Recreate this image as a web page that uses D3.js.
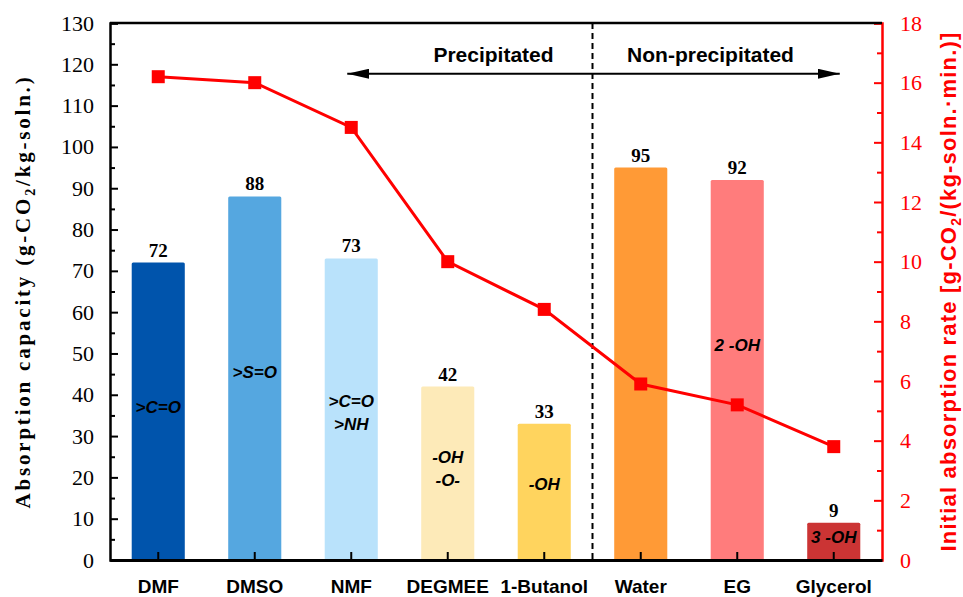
<!DOCTYPE html>
<html>
<head>
<meta charset="utf-8">
<script src="https://cdn.jsdelivr.net/npm/d3@7"></script>
<style>
  body { margin: 0; background: #fff; }
  svg text { font-family: "Liberation Serif", "Times New Roman", serif; }
  .sans { font-family: "Liberation Sans", Arial, sans-serif !important; }
</style>
</head>
<body>
<div id="viz"></div>
<script>
// solvents and their values
const solvents = ["DMF", "DMSO", "NMF", "DEGMEE", "1-Butanol", "Water", "EG", "Glycerol"];
const capacity = [72, 88, 73, 42, 33, 95, 92, 9];
const rate = [16.2, 16.0, 14.5, 10.0, 8.4, 5.9, 5.2, 3.8];
const barColors = ["#0054AC", "#55A7E0", "#B9E2FB", "#FDEAB8", "#FFD45E", "#FF9A36", "#FF7C7C", "#CB3434"];
// functional group notes inside bars, [lines, capacity-axis position]
const groupLabels = [
  [[">C=O"], 37],
  [[">S=O"], 45.5],
  [[">C=O", ">NH"], 38.5],
  [["-OH", "-O-"], 25],
  [["-OH"], 18.5],
  [[], 0],
  [["2 -OH"], 52],
  [["3 -OH"], 5.5]
];
const leftTicks = d3.range(0, 131, 10);
const rightTicks = d3.range(0, 19, 2);

const width = 963, height = 597;
const margin = { top: 23, right: 81, bottom: 37, left: 110 };

const svg = d3.select("#viz").append("svg")
  .attr("width", width).attr("height", height);

const x = d3.scaleBand().domain(solvents)
  .range([margin.left, width - margin.right]).paddingInner(0.45).paddingOuter(0.225);
const y = d3.scaleLinear().domain([0, 130]).range([height - margin.bottom, margin.top]);
const y2 = d3.scaleLinear().domain([0, 18]).range([height - margin.bottom, margin.top]);
const xRight = width - margin.right;
const yBase = height - margin.bottom;

// bars
svg.selectAll("rect.bar")
  .data(solvents)
  .enter()
  .append("rect")
  .classed("bar", true)
  .attr("x", (d) => x(d))
  .attr("y", (d, i) => y(capacity[i]))
  .attr("width", x.bandwidth())
  .attr("height", (d, i) => yBase - y(capacity[i]))
  .attr("rx", 1.5)
  .attr("fill", (d, i) => barColors[i]);

// value labels on bars
svg.selectAll("text.val")
  .data(solvents)
  .enter()
  .append("text")
  .classed("val", true)
  .attr("x", (d) => x(d) + x.bandwidth() / 2)
  .attr("y", (d, i) => y(capacity[i]) - 6)
  .attr("text-anchor", "middle")
  .style("font-weight", "bold")
  .style("font-size", "19px")
  .text((d, i) => capacity[i]);

// group labels inside bars
solvents.forEach((s, i) => {
  const [lines, pos] = groupLabels[i];
  lines.forEach((ln, j) => {
    svg.append("text")
      .attr("class", "sans")
      .attr("x", x(s) + x.bandwidth() / 2)
      .attr("y", y(pos) + j * 23 + 6)
      .attr("text-anchor", "middle")
      .style("font-weight", "bold")
      .style("font-style", "italic")
      .style("font-size", "17px")
      .text(ln);
  });
});

// dashed divider between precipitated / non-precipitated
const divX = x("Water") - x.step() * x.paddingInner() / 2;
svg.append("line")
  .attr("x1", divX).attr("x2", divX)
  .attr("y1", margin.top).attr("y2", yBase)
  .attr("stroke", "#000").attr("stroke-width", 2)
  .attr("stroke-dasharray", "6,4");

// arrow
const defs = svg.append("defs");
["start", "end"].forEach((k) => {
  defs.append("marker")
    .attr("id", "arr-" + k)
    .attr("viewBox", "0 0 22 10")
    .attr("refX", k === "end" ? 22 : 0).attr("refY", 5)
    .attr("markerWidth", 22).attr("markerHeight", 10)
    .attr("markerUnits", "userSpaceOnUse")
    .attr("orient", "auto")
    .append("path")
    .attr("d", k === "end" ? "M0,0 L22,5 L0,10 Z" : "M22,0 L0,5 L22,10 Z")
    .attr("fill", "#000");
});
const arrowY = y2(16.3);
svg.append("line")
  .attr("x1", x("NMF") + x.bandwidth() / 2 - 4)
  .attr("x2", x("Glycerol") + x.bandwidth() / 2 + 6)
  .attr("y1", arrowY).attr("y2", arrowY)
  .attr("stroke", "#000").attr("stroke-width", 2)
  .attr("marker-start", "url(#arr-start)")
  .attr("marker-end", "url(#arr-end)");
svg.append("text").attr("class", "sans")
  .attr("x", divX - 99).attr("y", arrowY - 12)
  .attr("text-anchor", "middle")
  .style("font-weight", "bold").style("font-size", "21px")
  .text("Precipitated");
svg.append("text").attr("class", "sans")
  .attr("x", divX + 118).attr("y", arrowY - 12)
  .attr("text-anchor", "middle")
  .style("font-weight", "bold").style("font-size", "21px")
  .text("Non-precipitated");

// rate line
const line = d3.line()
  .x((d, i) => x(solvents[i]) + x.bandwidth() / 2)
  .y((d) => y2(d));
svg.append("path")
  .datum(rate)
  .attr("d", line)
  .attr("fill", "none")
  .attr("stroke", "#FF0000")
  .attr("stroke-width", 3);
svg.selectAll("rect.pt")
  .data(rate)
  .enter()
  .append("rect")
  .classed("pt", true)
  .attr("x", (d, i) => x(solvents[i]) + x.bandwidth() / 2 - 6.5)
  .attr("y", (d) => y2(d) - 6.5)
  .attr("width", 13).attr("height", 13)
  .attr("fill", "#FF0000");

// left axis
const leftAxis = svg.append("g")
  .attr("transform", `translate(${margin.left},0)`)
  .call(d3.axisLeft(y).tickValues(leftTicks).tickSize(-8).tickPadding(16));
leftAxis.select(".domain").attr("stroke-width", 2.5);
leftAxis.selectAll(".tick line").attr("stroke-width", 2);
leftAxis.selectAll(".tick text")
  .style("font-size", "22px").style("font-family", "Liberation Serif, serif");
svg.append("g")
  .attr("transform", `translate(${margin.left},0)`)
  .call(d3.axisLeft(y).tickValues(d3.range(5, 130, 10)).tickSize(-5).tickFormat(""))
  .call((g) => g.select(".domain").remove())
  .selectAll(".tick line").attr("stroke-width", 2);

// right axis
const rightAxis = svg.append("g")
  .attr("transform", `translate(${xRight},0)`)
  .call(d3.axisRight(y2).tickValues(rightTicks).tickSize(-8).tickPadding(18));
rightAxis.select(".domain").attr("stroke", "#FF0000").attr("stroke-width", 2.5);
rightAxis.selectAll(".tick line").attr("stroke", "#FF0000").attr("stroke-width", 2);
rightAxis.selectAll(".tick text")
  .attr("fill", "#FF0000")
  .style("font-size", "22px").style("font-family", "Liberation Serif, serif");
svg.append("g")
  .attr("transform", `translate(${xRight},0)`)
  .call(d3.axisRight(y2).tickValues(d3.range(1, 18, 2)).tickSize(-5).tickFormat(""))
  .call((g) => g.select(".domain").remove())
  .selectAll(".tick line").attr("stroke", "#FF0000").attr("stroke-width", 2);

// top frame
svg.append("line")
  .attr("x1", margin.left).attr("x2", xRight)
  .attr("y1", margin.top).attr("y2", margin.top)
  .attr("stroke", "#000").attr("stroke-width", 2.5);

// bottom axis
const bottomAxis = svg.append("g")
  .attr("transform", `translate(0,${yBase})`)
  .call(d3.axisBottom(x).tickSize(-8).tickPadding(20).tickSizeOuter(0));
bottomAxis.select(".domain").attr("stroke-width", 3);
bottomAxis.selectAll(".tick line").attr("stroke-width", 2);
bottomAxis.selectAll(".tick text")
  .attr("class", "sans")
  .style("font-size", "19px").style("font-weight", "bold")
  .style("font-family", "Liberation Sans, Arial, sans-serif");

// left axis title
const lt = svg.append("text")
  .attr("transform", `translate(30,${(margin.top + yBase) / 2 + 0}) rotate(-90)`)
  .attr("text-anchor", "middle")
  .style("font-weight", "bold").style("font-size", "21px")
  .style("letter-spacing", "2.8px");
lt.append("tspan").text("Absorption capacity (g-CO");
lt.append("tspan").attr("dy", 5).style("font-size", "14px").text("2");
lt.append("tspan").attr("dy", -5).text("/kg-soln.)");

// right axis title
const rt = svg.append("text")
  .attr("class", "sans")
  .attr("transform", `translate(956,${(margin.top + yBase) / 2 + 0}) rotate(-90)`)
  .attr("text-anchor", "middle")
  .attr("fill", "#FF0000")
  .style("font-weight", "bold").style("font-size", "22px")
  .style("letter-spacing", "1.2px");
rt.append("tspan").text("Initial absorption rate [g-CO");
rt.append("tspan").attr("dy", 5).style("font-size", "14px").text("2");
rt.append("tspan").attr("dy", -5).text("/(kg-soln.·min.)]");
</script>
</body>
</html>
